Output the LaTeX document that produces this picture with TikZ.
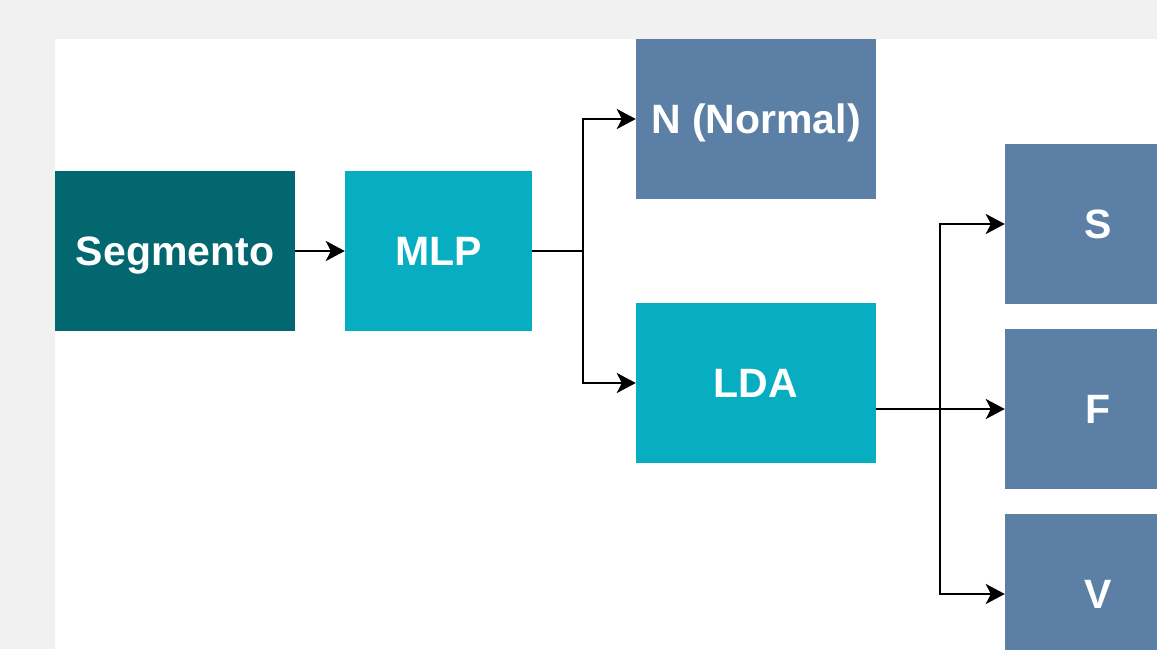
\documentclass[tikz,border=0pt]{standalone}
\usepackage{fontspec}
\setmainfont{Liberation Sans}
\usetikzlibrary{arrows.meta}
\definecolor{segteal}{HTML}{03676F}
\definecolor{mlpcyan}{HTML}{07AEC2}
\definecolor{classblue}{HTML}{5C80A5}
\definecolor{pagegray}{HTML}{F1F1F1}
\begin{document}
\begin{tikzpicture}[x=1pt, y=-1pt,
  every node/.style={font=\fontsize{41}{49}\selectfont\bfseries, text=white},
  box/.style={minimum height=160pt, inner sep=0pt, text height=29.4pt, text depth=0pt},
  link/.style={line width=2.2pt, -{Stealth[length=19pt,width=20pt,inset=5pt]}}]
  \useasboundingbox (0,0) rectangle (1157,649);
  \fill[pagegray] (0,0) rectangle (1157,649);
  \fill[white] (55,39) rectangle (1157,649);

  \node[box, fill=segteal,   minimum width=240pt] (seg) at (175,251)    {Segmento};
  \node[box, fill=mlpcyan,   minimum width=187pt] (mlp) at (438.5,251)  {MLP};
  \node[box, fill=classblue, minimum width=240pt] (nrm) at (756,119)    {N (Normal)};
  \node[box, fill=mlpcyan,   minimum width=240pt] (lda) at (756,383)    {LDA};
  \node[box, fill=classblue, minimum width=187pt] (cs)  at (1098.5,224) {S};
  \node[box, fill=classblue, minimum width=187pt] (cf)  at (1098.5,409) {F};
  \node[box, fill=classblue, minimum width=187pt] (cv)  at (1098.5,594) {V};

  \coordinate (forkA) at (583,251);
  \coordinate (ldaout) at ([yshift=-26pt]lda.east);
  \coordinate (forkB) at (940,409);

  \draw[link] (seg.east) -- (mlp.west);
  \draw[line width=2.2pt] (mlp.east) -- (forkA);
  \draw[link] (forkA) |- (nrm.west);
  \draw[link] (forkA) |- (lda.west);
  \draw[link] (ldaout) -- (cf.west);
  \draw[link] (forkB) |- (cs.west);
  \draw[link] (forkB) |- (cv.west);
\end{tikzpicture}
\end{document}
